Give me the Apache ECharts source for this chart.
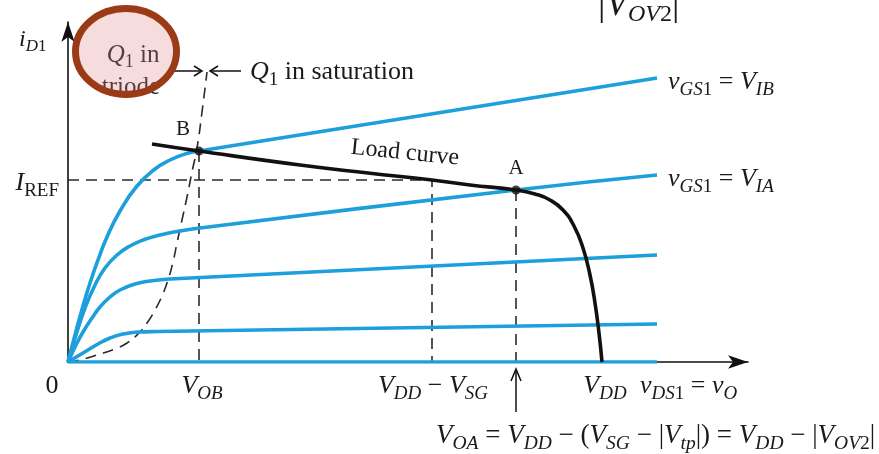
<!DOCTYPE html>
<html>
<head>
<meta charset="utf-8">
<script src="https://cdn.jsdelivr.net/npm/echarts@6/dist/echarts.min.js"></script>
<style>
  html, body { margin: 0; padding: 0; background: #ffffff; }
  #chart { width: 879px; height: 454px; }
</style>
</head>
<body>
<div id="chart"></div>
<script>
// Drain characteristics of Q1 (normalised units: vDS1 along x, iD1 along y)
const curveZero = [[0, 0], [589, 0]];
const curveLow = [[0, 0], [10, 6], [20, 12], [30, 18], [42, 24], [55, 28], [70, 30], [90, 30.5], [589, 38]];
const curveMid = [[0, 0], [8, 17], [15, 30], [24, 44], [32, 55], [42, 65], [52, 72], [67, 78], [82, 81], [102, 83], [589, 107]];
const curveIA = [[0, 0], [8, 27], [17, 54], [27, 77], [37, 94], [49, 107], [62, 116], [75, 122], [92, 127], [112, 131], [132, 134], [448, 172], [589, 187]];
const curveIB = [[0, 0], [7, 27], [15, 56], [22, 79], [30, 102], [39, 125], [52, 151], [69, 176], [87, 193], [102, 202], [117, 208], [131, 211], [589, 284]];

// Triode / saturation boundary (vDS = vGS - Vt)
const edgeCurve = [[0, 0], [12, 2], [29, 7], [47, 13], [59, 19], [70, 28], [79, 39], [87, 52], [94, 66], [100, 82], [105, 100], [109, 119], [114, 142], [119, 165], [124, 190], [129, 214], [134, 250], [139, 290]];

// Load curve presented by Q2
const loadCurve = [[84, 218], [131, 211], [232, 197], [300, 189], [364, 182], [402, 177], [448, 172], [467, 168], [482, 162], [495, 152], [506, 136], [515, 114], [522, 87], [527, 59], [531, 29], [534, 0]];

// Operating points and reference levels
const pointB = [131, 211];
const pointA = [448, 172];
const IREF = 182;
const VOB = 131;
const VDD_VSG = 364;
const VOA = 448;
const VDD = 534;

const xMax = 680;
const yMax = 340;

const BLUE = '#1c9fdb';
const INK = '#1a1a1a';
const SERIF = '"Liberation Serif", "DejaVu Serif", serif';

function tok(size, italic, pad) {
  const s = { fontFamily: SERIF, fontSize: size, fill: INK, color: INK };
  if (italic) s.fontStyle = 'italic';
  if (pad) s.padding = [pad, 0, 0, 0];
  return s;
}
const rich = {
  it: tok(26, true), rm: tok(26, false),
  sb: tok(19, true, 16), sr: tok(19, false, 16),
  fi: tok(27, true), fr: tok(27, false), fs: tok(19.5, true, 16), fsr: tok(19.5, false, 16),
  yi: tok(24, true), ys: tok(17, true, 14), ysr: tok(17, false, 14),
  bi: tok(37, true), br: tok(37, false), bs: tok(24, true, 20), bsr: tok(24, false, 20),
  ti: tok(25, true), tr: tok(25, false), ts: tok(18, false, 14)
};

function rt(parts) {
  return parts.map(p => '{' + p[1] + '|' + p[0] + '}').join('');
}

const labelY = rt([['i', 'yi'], ['D', 'ys'], ['1', 'ysr']]);
const labelIREF = rt([['I', 'it'], ['REF', 'sr']]);
const labelZero = rt([['0', 'rm']]);
const labelVOB = rt([['V', 'it'], ['OB', 'sb']]);
const labelVDDVSG = rt([['V', 'it'], ['DD', 'sb'], [' − ', 'rm'], ['V', 'it'], ['SG', 'sb']]);
const labelVDD = rt([['V', 'it'], ['DD', 'sb']]);
const labelX = rt([['v', 'it'], ['DS', 'sb'], ['1', 'sr'], [' = ', 'rm'], ['v', 'it'], ['O', 'sb']]);
const labelVOA = rt([['V', 'fi'], ['OA', 'fs'], [' = ', 'fr'], ['V', 'fi'], ['DD', 'fs'], [' − (', 'fr'], ['V', 'fi'], ['SG', 'fs'],
  [' − |', 'fr'], ['V', 'fi'], ['tp', 'fs'], ['|) = ', 'fr'], ['V', 'fi'], ['DD', 'fs'], [' − |', 'fr'], ['V', 'fi'], ['OV', 'fs'], ['2', 'fsr'], ['|', 'fr']]);
const labelIB = rt([['v', 'it'], ['GS', 'sb'], ['1', 'sr'], [' = ', 'rm'], ['V', 'it'], ['IB', 'sb']]);
const labelIA = rt([['v', 'it'], ['GS', 'sb'], ['1', 'sr'], [' = ', 'rm'], ['V', 'it'], ['IA', 'sb']]);
const labelTop = rt([['|', 'br'], ['V', 'bi'], ['OV', 'bs'], ['2', 'bsr'], ['|', 'br']]);
const labelSat = rt([['Q', 'it'], ['1', 'sr'], [' in saturation', 'rm']]);
const labelTriode1 = rt([['Q', 'ti'], ['1', 'ts'], [' in', 'tr']]);
const labelTriode2 = rt([['triode', 'tr']]);

const chart = echarts.init(document.getElementById('chart'), null, { renderer: 'canvas' });

function blueLine(data) {
  return {
    type: 'line', data: data, smooth: 0.5, showSymbol: false, silent: true,
    lineStyle: { color: BLUE, width: 3.6 }, z: 3
  };
}
function dashLine(data, smooth) {
  return {
    type: 'line', data: data, smooth: smooth ? 0.5 : false, showSymbol: false, silent: true,
    lineStyle: { color: '#2a2a2a', width: 1.6, type: [11, 7] }, z: 2
  };
}

const axisCommon = {
  type: 'value', min: 0,
  axisLine: { show: true, symbol: ['none', 'arrow'], symbolSize: [10, 20], lineStyle: { color: '#111', width: 1.6 } },
  axisTick: { show: false }, axisLabel: { show: false }, splitLine: { show: false }
};

chart.setOption({
  animation: false,
  backgroundColor: '#ffffff',
  grid: { left: 68, top: 22, width: 680, height: 340 },
  xAxis: Object.assign({}, axisCommon, { max: xMax }),
  yAxis: Object.assign({}, axisCommon, { max: yMax }),
  series: [
    dashLine(edgeCurve, true),
    dashLine([[0, IREF], [VDD_VSG, IREF], [VDD_VSG, 0]], false),
    dashLine([[VOB, pointB[1]], [VOB, 0]], false),
    dashLine([[VOA, pointA[1]], [VOA, 0]], false),
    blueLine(curveZero),
    blueLine(curveLow),
    blueLine(curveMid),
    blueLine(curveIA),
    blueLine(curveIB),
    {
      type: 'line', data: loadCurve, smooth: 0.5, showSymbol: false, silent: true,
      lineStyle: { color: '#111', width: 3.6 }, z: 4
    },
    {
      type: 'scatter', data: [pointA, pointB], symbolSize: 9, silent: true,
      itemStyle: { color: '#111' }, z: 5
    }
  ]
});

const P = (x, y) => chart.convertToPixel({ gridIndex: 0 }, [x, y]);

function txt(text, x, y, align, z) {
  return {
    type: 'text', x: x, y: y, z: z || 20, silent: true,
    style: { text: text, rich: rich, align: align || 'center', verticalAlign: 'middle', fill: INK, fontFamily: SERIF, fontSize: 22 }
  };
}
function plain(text, x, y, size, rotation) {
  return {
    type: 'text', x: x, y: y, z: 20, silent: true, rotation: rotation || 0,
    style: { text: text, fill: INK, fontFamily: SERIF, fontSize: size, align: 'center', verticalAlign: 'middle' }
  };
}
function seg(pts, width) {
  return { type: 'polyline', z: 20, silent: true, shape: { points: pts }, style: { stroke: '#111', lineWidth: width || 1.5, fill: null } };
}

const o = P(0, 0);
const pB = P(pointB[0], pointB[1]);
const pA = P(pointA[0], pointA[1]);
const pIref = P(0, IREF);
const pVob = P(VOB, 0);
const pVs = P(VDD_VSG, 0);
const pVoa = P(VOA, 0);
const pVdd = P(VDD, 0);
const pIBend = P(curveIB[curveIB.length - 1][0], curveIB[curveIB.length - 1][1]);
const pIAend = P(curveIA[curveIA.length - 1][0], curveIA[curveIA.length - 1][1]);
const pEdge = P(edgeCurve[edgeCurve.length - 1][0], edgeCurve[edgeCurve.length - 1][1]);
const labY = o[1] + 24;

chart.setOption({
  graphic: [
    txt(labelY, 19, 40, 'left'),
    txt(labelIREF, o[0] - 9, pIref[1] + 3, 'right'),
    txt(labelZero, o[0] - 16, labY, 'center'),
    txt(labelVOB, pVob[0] + 3, labY, 'center'),
    txt(labelVDDVSG, pVs[0] + 1, labY, 'center'),
    txt(labelVDD, pVdd[0] + 3, labY, 'center'),
    txt(labelX, 640, labY, 'left'),
    txt(labelVOA, 436, 436, 'left'),
    txt(labelIB, pIBend[0] + 11, pIBend[1] + 4, 'left'),
    txt(labelIA, pIAend[0] + 11, pIAend[1] + 4, 'left'),
    txt(labelTop, 598, 5, 'left'),
    plain('B', pB[0] - 16, pB[1] - 22, 21),
    plain('A', pA[0], pA[1] - 22, 21),
    plain('Load curve', 405, 153, 24, -0.1),
    txt(labelSat, 250, 72, 'left'),
    // arrows marking the triode / saturation boundary
    seg([[173, 71], [pEdge[0] - 5, 71]]),
    seg([[pEdge[0] - 13, 66], [pEdge[0] - 5, 71], [pEdge[0] - 13, 76]]),
    seg([[pEdge[0] + 34, 71], [pEdge[0] + 3, 71]]),
    seg([[pEdge[0] + 11, 66], [pEdge[0] + 3, 71], [pEdge[0] + 11, 76]]),
    // pointer to VOA
    seg([[pVoa[0], 412], [pVoa[0], 370]]),
    seg([[pVoa[0] - 5, 381], [pVoa[0], 369], [pVoa[0] + 5, 381]]),
    // triode region callout
    txt(labelTriode1, 133, 55, 'center', 18),
    txt(labelTriode2, 131, 87, 'center', 18),
    {
      type: 'ellipse', z: 25, silent: true,
      shape: { cx: 126, cy: 51.5, rx: 50.5, ry: 43 },
      style: { fill: 'rgba(225,140,140,0.3)', stroke: '#9b3a17', lineWidth: 7 }
    }
  ]
});
</script>
</body>
</html>
